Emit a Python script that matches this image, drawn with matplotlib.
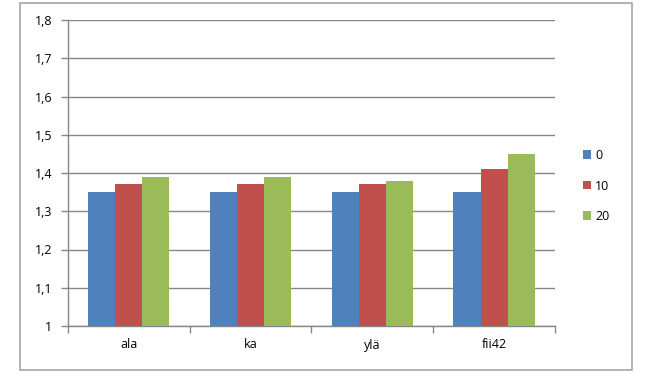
import numpy as np
import matplotlib.pyplot as plt
from matplotlib.patches import Rectangle
from matplotlib.ticker import FuncFormatter

categories = ['ala', 'ka', 'ylä', 'fii42']
series_names = ['0', '10', '20']
s0 = [1.35, 1.35, 1.35, 1.35]
s10 = [1.37, 1.37, 1.37, 1.41]
s20 = [1.39, 1.39, 1.38, 1.45]
colors = ['#4F81BD', '#C0504D', '#9BBB59']

plt.rcParams['font.family'] = ['Open Sans', 'DejaVu Sans']

fig = plt.figure(figsize=(6.45, 3.81), dpi=100)
ax = fig.add_axes([67.7 / 645, 1 - 326 / 381, (555 - 67.7) / 645, (326 - 20) / 381])

# outer chart border
fig.patches.append(Rectangle((20 / 645, 1 - 370 / 381), 612 / 645, 367 / 381,
                             transform=fig.transFigure, fill=False,
                             edgecolor='#A6A6A6', linewidth=1.2))

x = np.arange(len(categories))
w = 1 / 4.5
for i, (vals, c) in enumerate(zip([s0, s10, s20], colors)):
    ax.bar(x + (i - 1) * w, vals, width=w, color=c, zorder=3, label=series_names[i])

ax.set_ylim(1, 1.8)
ax.set_xlim(-0.5, len(categories) - 0.5)
ax.set_yticks(np.arange(1, 1.81, 0.1))
ax.yaxis.set_major_formatter(FuncFormatter(lambda v, p: '1' if abs(v - 1) < 1e-9 else f'{v:.1f}'.replace('.', ',')))
ax.grid(axis='y', color='#868686', linewidth=1, zorder=0)

ax.set_xticks(x)
ax.set_xticklabels(categories)
ax.set_xticks(np.arange(-0.5, len(categories)), minor=True)
ax.tick_params(axis='x', which='major', length=0, pad=9, labelsize=9)
ax.tick_params(axis='x', which='minor', length=5, color='#868686', width=1)
ax.tick_params(axis='y', length=5, color='#868686', width=1, labelsize=9, pad=6)

for s in ['top', 'right']:
    ax.spines[s].set_visible(False)
for s in ['left', 'bottom']:
    ax.spines[s].set_color('#868686')
    ax.spines[s].set_linewidth(1)

ax.legend(loc='center left', bbox_to_anchor=(572 / 645, 1 - 186 / 381),
          bbox_transform=fig.transFigure, frameon=False, fontsize=9,
          handlelength=0.65, handleheight=0.65, handletextpad=0.3, labelspacing=1.4)

fig.savefig('out.png', dpi=100)
